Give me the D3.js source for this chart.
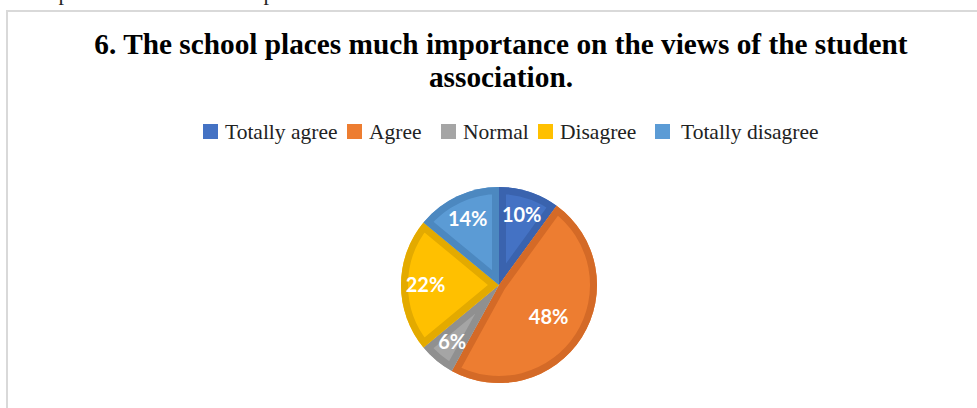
<!DOCTYPE html>
<html>
<head>
<meta charset="utf-8">
<script src="https://cdn.jsdelivr.net/npm/d3@7"></script>
<style>
  html, body { margin: 0; padding: 0; background: #fff; }
  svg { display: block; }
</style>
</head>
<body>
<svg id="chart" width="977" height="408"></svg>
<script>
// Survey answers for question 6
const categories = ["Totally agree", "Agree", "Normal", "Disagree", "Totally disagree"];
const shares = [10, 48, 6, 22, 14];
const fills = ["#4472C4", "#ED7D31", "#A5A5A5", "#FFC000", "#5B9BD5"];
const edges = ["#3A63AE", "#D46A27", "#909090", "#E3AA00", "#4C88C0"];
const titleLines = ["6. The school places much importance on the views of the student", "association."];

const W = 977, H = 408;
const svg = d3.select("#chart");
svg.append("rect").attr("width", W).attr("height", H).attr("fill", "#fff");

// descenders of the page text running above the chart frame
svg.append("g")
  .attr("font-family", "'Liberation Serif', 'Times New Roman', serif")
  .attr("font-size", 22)
  .attr("fill", "#222")
  .selectAll("text").data([64, 269]).join("text")
  .attr("x", d => d).attr("y", 0).attr("text-anchor", "middle").text("p");

// chart frame (left and top edges)
svg.append("path")
  .attr("d", "M7,408 V11 H977")
  .attr("fill", "none").attr("stroke", "#d9d9d9").attr("stroke-width", 2);

// title
svg.append("g")
  .attr("font-family", "'Liberation Serif', 'Times New Roman', serif")
  .attr("font-weight", "bold")
  .attr("font-size", 29.3)
  .attr("fill", "#000")
  .attr("text-anchor", "middle")
  .selectAll("text").data(titleLines).join("text")
  .attr("x", 501).attr("y", (d, i) => 54 + i * 33)
  .text(d => d);

// legend
const legendX = [203, 347, 441, 538, 655];
const legend = svg.append("g")
  .attr("font-family", "'Liberation Serif', 'Times New Roman', serif")
  .attr("font-size", 21.5)
  .attr("fill", "#222");
const items = legend.selectAll("g").data(categories).join("g")
  .attr("transform", (d, i) => `translate(${legendX[i]},124)`);
items.append("rect").attr("y", 0).attr("width", 15).attr("height", 15)
  .attr("fill", (d, i) => fills[i]);
items.append("text").attr("x", (d, i) => i === 4 ? 26 : 22).attr("y", 15).text(d => d);

// pie
const cx = 499, cy = 285, r = 98;
const pie = d3.pie().sort(null).value(d => d)(shares);
const arc = d3.arc().innerRadius(0).outerRadius(r);
const g = svg.append("g").attr("transform", `translate(${cx},${cy})`);
const defs = svg.append("defs");
pie.forEach((p, i) => {
  defs.append("clipPath").attr("id", "clip" + i)
    .append("path").attr("d", arc(p));
});
const slices = g.selectAll("g.slice").data(pie).join("g").attr("class", "slice");
slices.append("path")
  .attr("d", arc)
  .attr("fill", (d, i) => fills[i]);
// darker inner rim on each slice
slices.append("path")
  .attr("d", arc)
  .attr("fill", "none")
  .attr("stroke", (d, i) => edges[i])
  .attr("stroke-width", 14)
  .attr("stroke-linejoin", "miter")
  .attr("clip-path", (d, i) => `url(#clip${i})`);

// percentage labels
g.selectAll("text.lbl").data(pie).join("text")
  .attr("class", "lbl")
  .attr("transform", d => {
    const rr = d.data > 40 ? r * 0.6 : r * 0.75;
    const a = (d.startAngle + d.endAngle) / 2;
    return `translate(${Math.sin(a) * rr},${-Math.cos(a) * rr})`;
  })
  .attr("text-anchor", "middle")
  .attr("dy", "0.36em")
  .attr("font-family", "Lato, 'Open Sans', sans-serif")
  .attr("font-weight", "bold")
  .attr("font-size", 20)
  .attr("fill", "#fff")
  .text(d => d.data + "%");
</script>
</body>
</html>
